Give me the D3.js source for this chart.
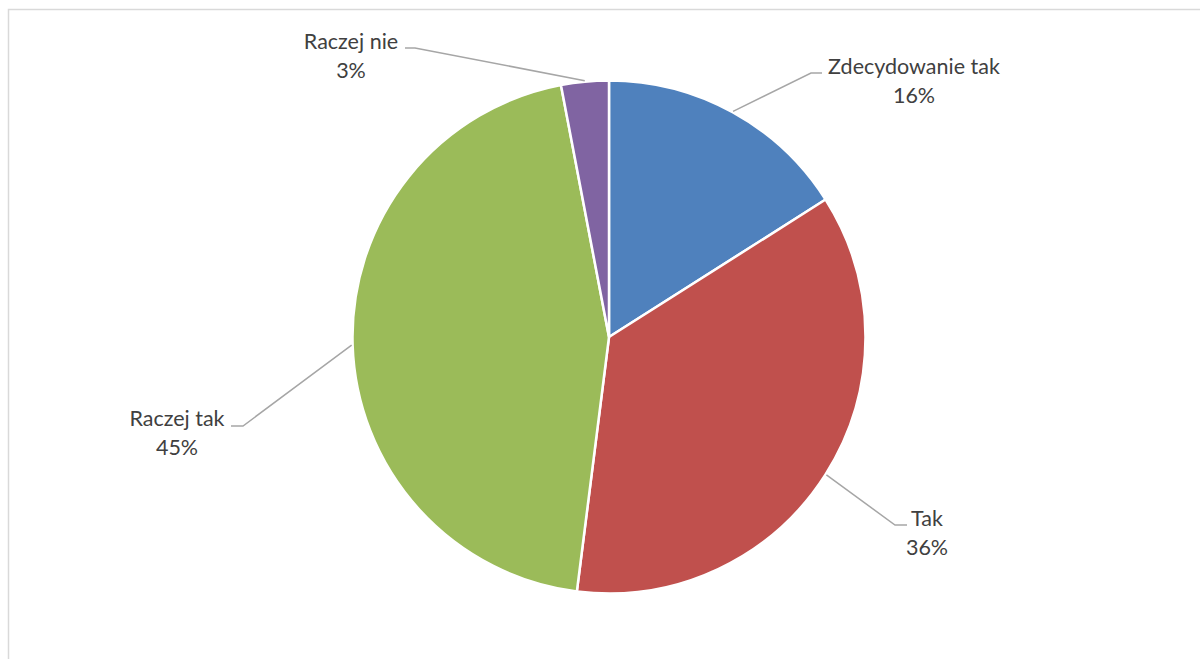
<!DOCTYPE html>
<html><head><meta charset="utf-8">
<script src="https://cdn.jsdelivr.net/npm/d3@7"></script>
<style>body{margin:0;background:#fff;}svg{display:block;}</style>
</head><body>
<script>
// Data
const categories = ["Zdecydowanie tak", "Tak", "Raczej tak", "Raczej nie"];
const values = [16, 36, 45, 3];
const percentLabels = ["16%", "36%", "45%", "3%"];
const colors = ["#4f81bd", "#c0504d", "#9bbb59", "#8064a2"];

// Label layout (elbow point, horizontal end x, text centre x, first baseline y)
const labelLayout = [
  {ex: 811, ey: 73, hx: 822, tx: 914, ty: 74},
  {ex: 895, ey: 525, hx: 907, tx: 927, ty: 526},
  {ex: 243, ey: 426, hx: 231, tx: 177, ty: 426},
  {ex: 415, ey: 48, hx: 405, tx: 351, ty: 49}
];

const W = 1200, H = 659;
const cx = 609, cy = 337, R = 256.5;

const svg = d3.select("body").append("svg").attr("width", W).attr("height", H);
svg.append("rect").attr("x", 8.5).attr("y", 9.5).attr("width", 1300).attr("height", 800)
  .attr("fill", "#fff").attr("stroke", "#d9d9d9").attr("stroke-width", 1.5);

const pie = d3.pie().sort(null).value(d => d)(values);
const arc = d3.arc().innerRadius(0).outerRadius(R);
const g = svg.append("g").attr("transform", `translate(${cx},${cy})`);

g.selectAll("path.slice").data(pie).join("path").attr("class", "slice")
  .attr("d", arc).attr("fill", (d, i) => colors[i])
  .attr("stroke", "#fff").attr("stroke-width", 2.5).attr("stroke-linejoin", "round");

// Leader lines and labels
pie.forEach((d, i) => {
  const a = (d.startAngle + d.endAngle) / 2;
  const sx = cx + Math.sin(a) * (R + 1), sy = cy - Math.cos(a) * (R + 1);
  const L = labelLayout[i];
  svg.append("polyline")
    .attr("points", `${sx},${sy} ${L.ex},${L.ey} ${L.hx},${L.ey}`)
    .attr("fill", "none").attr("stroke", "#a6a6a6").attr("stroke-width", 1.5);
  const t = svg.append("text").attr("text-anchor", "middle")
    .attr("font-family", "Lato, 'Open Sans', sans-serif").attr("font-size", 21.5)
    .attr("fill", "#404040");
  t.append("tspan").attr("x", L.tx).attr("y", L.ty).text(categories[i]);
  t.append("tspan").attr("x", L.tx).attr("y", L.ty + 29).text(percentLabels[i]);
});
</script>
</body></html>
